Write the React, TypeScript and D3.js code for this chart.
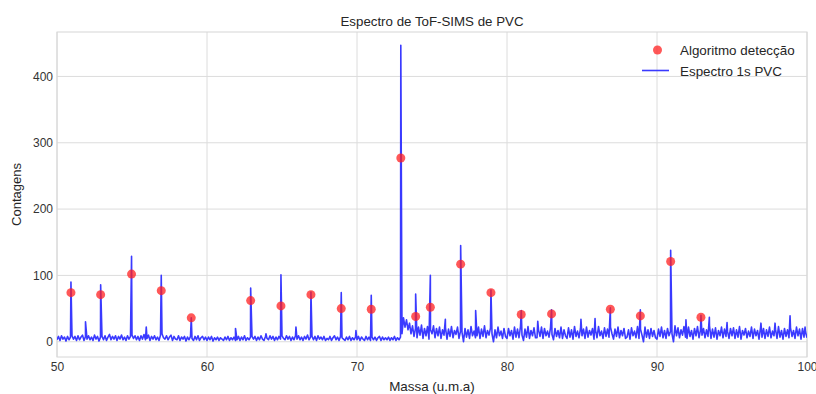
import React, { useEffect, useRef } from 'react';
import * as d3 from 'd3';

// noise floor of the spectrum, one row per u.m.a, 0.1 u.m.a between values
const baseStart = 50;
const baseStep = 0.1;
const baseRows: number[][] = [
	[3, 8, 2, 9, 4, 7, 1, 8, 3, 7],
	[9, 4, 8, 2, 9, 3, 7, 10, 2, 8],
	[4, 9, 3, 7, 2, 10, 4, 8, 1, 7],
	[8, 3, 9, 2, 7, 11, 3, 8, 4, 9],
	[2, 8, 4, 10, 3, 7, 2, 9, 4, 8],
	[10, 5, 9, 3, 8, 2, 9, 4, 11, 3],
	[5, 10, 2, 8, 4, 9, 3, 7, 2, 10],
	[12, 6, 4, 9, 3, 7, 10, 2, 8, 4],
	[3, 9, 2, 7, 4, 8, 1, 7, 3, 8],
	[5, 2, 8, 3, 9, 2, 6, 8, 3, 7],
	[2, 7, 3, 8, 1, 6, 3, 7, 2, 6],
	[4, 2, 7, 3, 8, 2, 6, 3, 7, 2],
	[3, 8, 2, 7, 3, 9, 2, 6, 3, 7],
	[8, 4, 8, 2, 7, 3, 9, 4, 2, 8],
	[5, 3, 9, 4, 8, 2, 7, 3, 8, 4],
	[9, 5, 3, 9, 4, 8, 2, 7, 3, 9],
	[4, 9, 3, 7, 2, 8, 4, 10, 3, 7],
	[8, 3, 8, 2, 9, 4, 7, 3, 8, 2],
	[5, 3, 8, 2, 6, 9, 3, 7, 2, 8],
	[6, 4, 2, 7, 3, 8, 2, 6, 3, 7],
	[3, 8, 2, 7, 4, 2, 8, 3, 7, 2],
	[7, 3, 7, 2, 6, 8, 2, 7, 3, 6],
	[3, 7, 2, 6, 3, 8, 2, 6, 3, 7],
	[12, 36, 22, 33, 18, 28, 12, 24, 8, 20],
	[6, 22, 10, 25, 5, 20, 9, 23, 4, 18],
	[12, 24, 6, 20, 9, 22, 5, 18, 10, 21],
	[4, 19, 8, 23, 6, 17, 11, 22, 5, 16],
	[14, 0, 20, 7, 18, 5, 23, 9, 16, 6],
	[9, 22, 5, 19, 8, 24, 6, 17, 10, 21],
	[12, 0, 18, 6, 22, 9, 16, 5, 20, 8],
	[5, 20, 9, 17, 4, 22, 7, 19, 6, 23],
	[10, 2, 19, 7, 23, 5, 17, 9, 21, 6],
	[6, 18, 8, 22, 5, 20, 9, 16, 7, 21],
	[11, 3, 20, 8, 17, 6, 22, 5, 18, 9],
	[5, 21, 7, 18, 4, 23, 8, 16, 6, 20],
	[9, 19, 5, 22, 7, 17, 10, 20, 4, 18],
	[6, 23, 9, 16, 5, 21, 8, 19, 7, 22],
	[12, 4, 19, 8, 22, 6, 17, 9, 20, 5],
	[7, 18, 4, 21, 9, 16, 6, 23, 5, 19],
	[10, 0, 22, 7, 18, 5, 20, 8, 17, 6],
	[4, 19, 8, 22, 6, 17, 5, 20, 9, 16],
	[12, 0, 24, 9, 21, 6, 18, 10, 23, 7],
	[5, 22, 8, 17, 4, 20, 9, 23, 6, 18],
	[10, 20, 6, 18, 8, 24, 5, 19, 7, 21],
	[4, 17, 9, 22, 6, 19, 8, 16, 5, 20],
	[9, 21, 5, 18, 7, 23, 4, 17, 10, 20],
	[6, 16, 8, 22, 5, 19, 9, 17, 4, 21],
	[7, 20, 5, 18, 8, 22, 6, 16, 9, 19],
	[5, 23, 7, 17, 4, 20, 8, 18, 6, 21],
	[8, 17, 5, 22, 9, 19, 4, 20, 7, 15],
	[6]
];

// spectrum peaks
const peakMass = [50.93, 51.9, 52.91, 54.97, 55.95, 56.95, 58.95, 61.9, 62.91, 63.93, 64.93, 65.93, 66.93, 68.95, 69.93, 70.95, 72.92, 73.91, 74.89, 75.89, 76.91, 77.91, 78.93, 80.95, 82.05, 82.97, 84.93, 85.87, 86.89, 88.89, 90.91, 91.93, 92.93, 93.49, 94.67, 96.93, 97.87, 98.87, 99.87];
const peakCounts = [90, 30, 86, 129, 22, 100, 36, 20, 81, 12, 101, 22, 75, 74, 17, 70, 447, 72, 100, 34, 145, 47, 78, 47, 31, 48, 34, 35, 51, 48, 138, 33, 40, 37, 29, 28, 28, 39, 22];

// points found by the detection algorithm
const detectMass = [50.93, 52.91, 54.97, 56.95, 58.95, 62.91, 64.93, 66.93, 68.95, 70.95, 72.92, 73.91, 74.89, 76.91, 78.93, 80.95, 82.97, 86.89, 88.89, 90.91, 92.93];
const detectCounts = [74, 71, 102, 77, 36, 62, 54, 71, 50, 49, 277, 38, 52, 117, 74, 41, 42, 49, 39, 121, 37];

const xTicks = [50, 60, 70, 80, 90, 100];
const yTicks = [0, 100, 200, 300, 400];

const W = 816;
const H = 394;
const margin = { top: 32, right: 9, bottom: 37, left: 57 };
const font = '"Liberation Sans", Arial, sans-serif';
const blue = '#3a3aff';

export default function App() {
	const ref = useRef<SVGSVGElement>(null);

	useEffect(() => {
		document.body.style.margin = '0';
		const svg = d3.select(ref.current);
		svg.selectAll('*').remove();

		const x = d3.scaleLinear().domain([50, 100]).range([margin.left, W - margin.right]);
		const y = d3.scaleLinear().domain([-23, 467]).range([H - margin.bottom, margin.top]);

		// build the spectrum from the noise floor plus the peaks
		const pts: [number, number][] = [];
		baseRows.forEach((row, i) =>
			row.forEach((v, j) => pts.push([+(baseStart + i + j * baseStep).toFixed(2), v]))
		);
		peakMass.forEach((m, i) => pts.push([m, peakCounts[i]]));
		pts.sort((a, b) => a[0] - b[0]);

		const plotW = W - margin.left - margin.right;
		const plotH = H - margin.top - margin.bottom;

		// grid
		const grid = svg.append('g').attr('stroke', '#dcdcdc').attr('stroke-width', 1);
		grid.selectAll('line.v')
			.data(xTicks)
			.enter()
			.append('line')
			.attr('x1', d => x(d))
			.attr('x2', d => x(d))
			.attr('y1', margin.top)
			.attr('y2', H - margin.bottom);
		grid.selectAll('line.h')
			.data(yTicks)
			.enter()
			.append('line')
			.attr('x1', margin.left)
			.attr('x2', W - margin.right)
			.attr('y1', d => y(d))
			.attr('y2', d => y(d));

		svg.append('rect')
			.attr('x', margin.left)
			.attr('y', margin.top)
			.attr('width', plotW)
			.attr('height', plotH)
			.attr('fill', 'none')
			.attr('stroke', '#d6d6d6');

		svg.append('defs')
			.append('clipPath')
			.attr('id', 'plot')
			.append('rect')
			.attr('x', margin.left)
			.attr('y', margin.top)
			.attr('width', plotW)
			.attr('height', plotH);

		const line = d3
			.line<[number, number]>()
			.x(d => x(d[0]))
			.y(d => y(d[1]));

		svg.append('path')
			.datum(pts)
			.attr('clip-path', 'url(#plot)')
			.attr('d', line)
			.attr('fill', 'none')
			.attr('stroke', blue)
			.attr('stroke-width', 1.6)
			.attr('stroke-linejoin', 'round');

		svg.append('g')
			.selectAll('circle')
			.data(detectMass)
			.enter()
			.append('circle')
			.attr('cx', d => x(d))
			.attr('cy', (d, i) => y(detectCounts[i]))
			.attr('r', 4.5)
			.attr('fill', '#ff2020')
			.attr('fill-opacity', 0.75);

		// axes
		const xAxis = d3.axisBottom(x).tickValues(xTicks).tickSize(0).tickPadding(5).tickFormat(d3.format('d'));
		const gx = svg.append('g').attr('transform', `translate(0, ${H - margin.bottom})`).call(xAxis);
		const yAxis = d3.axisLeft(y).tickValues(yTicks).tickSize(0).tickPadding(4).tickFormat(d3.format('d'));
		const gy = svg.append('g').attr('transform', `translate(${margin.left}, 0)`).call(yAxis);
		[gx, gy].forEach(g => {
			g.select('.domain').remove();
			g.selectAll('text').attr('font-family', font).attr('font-size', 12).attr('fill', '#333');
		});

		svg.append('text')
			.attr('x', margin.left + plotW / 2)
			.attr('y', 26)
			.attr('text-anchor', 'middle')
			.attr('font-family', font)
			.attr('font-size', 13.3)
			.attr('fill', '#262626')
			.text('Espectro de ToF-SIMS de PVC');

		svg.append('text')
			.attr('x', margin.left + plotW / 2)
			.attr('y', 391)
			.attr('text-anchor', 'middle')
			.attr('font-family', font)
			.attr('font-size', 13.4)
			.attr('fill', '#262626')
			.text('Massa (u.m.a)');

		svg.append('text')
			.attr('transform', `translate(21, ${margin.top + plotH / 2}) rotate(-90)`)
			.attr('text-anchor', 'middle')
			.attr('font-family', font)
			.attr('font-size', 13)
			.attr('fill', '#262626')
			.text('Contagens');

		// legend
		const lg = svg.append('g').attr('font-family', font).attr('font-size', 13.4).attr('fill', '#262626');
		lg.append('circle').attr('cx', 657.5).attr('cy', 50).attr('r', 4.5).attr('fill', '#ff2020').attr('fill-opacity', 0.75);
		lg.append('text').attr('x', 680).attr('y', 54.5).text('Algoritmo detecção');
		lg.append('line')
			.attr('x1', 642)
			.attr('x2', 669)
			.attr('y1', 70.5)
			.attr('y2', 70.5)
			.attr('stroke', blue)
			.attr('stroke-width', 1.6);
		lg.append('text').attr('x', 680).attr('y', 75.5).text('Espectro 1s PVC');
	}, []);

	return <svg ref={ref} width={W} height={H} style={{ display: 'block' }} />;
}
